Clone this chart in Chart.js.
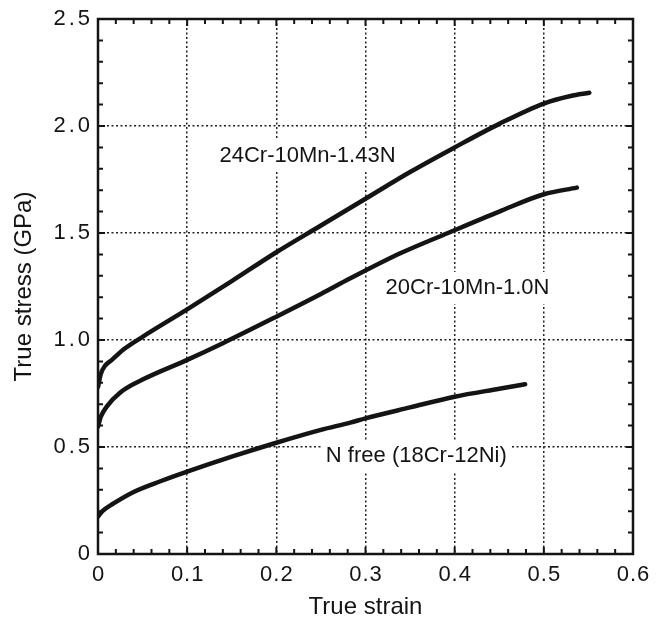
<!DOCTYPE html>
<html>
<head>
<meta charset="utf-8">
<title>True stress - true strain</title>
<script src="https://cdn.jsdelivr.net/npm/chart.js@4/dist/chart.umd.min.js"></script>
<style>
  body { margin: 0; background: #fff; }
  canvas { display: block; }
</style>
</head>
<body>
<canvas id="stressChart" width="664" height="620"></canvas>
<script>
// stress-strain curves for three steels
const strainHighN = [0, 0.003, 0.008, 0.015, 0.03, 0.05, 0.1, 0.15, 0.2, 0.25, 0.3, 0.35, 0.4, 0.45, 0.5, 0.53, 0.551];
const stressHighN = [0.78, 0.84, 0.88, 0.905, 0.96, 1.015, 1.143, 1.275, 1.41, 1.535, 1.66, 1.785, 1.9, 2.01, 2.105, 2.14, 2.155];

const strainMidN = [0, 0.003, 0.01, 0.025, 0.05, 0.1, 0.14, 0.2, 0.25, 0.283, 0.339, 0.3925, 0.45, 0.5, 0.537];
const stressMidN = [0.595, 0.64, 0.69, 0.755, 0.815, 0.907, 0.985, 1.109, 1.215, 1.288, 1.405, 1.5, 1.6, 1.681, 1.712];

const strainNoN = [0, 0.005, 0.017, 0.04, 0.07, 0.1, 0.15, 0.2, 0.25, 0.283, 0.3, 0.35, 0.4, 0.45, 0.479];
const stressNoN = [0.175, 0.2, 0.235, 0.29, 0.34, 0.385, 0.455, 0.52, 0.58, 0.614, 0.634, 0.685, 0.735, 0.772, 0.793];

const xTicks = [0, 0.1, 0.2, 0.3, 0.4, 0.5, 0.6];
const yTicks = [0, 0.5, 1.0, 1.5, 2.0, 2.5];

// curve names and where they are written (data units)
const curveNames = ['24Cr-10Mn-1.43N', '20Cr-10Mn-1.0N', 'N free (18Cr-12Ni)'];
const nameX = [0.235, 0.4144, 0.357];
const nameY = [1.862, 1.243, 0.458];

const FONT = '"Liberation Sans", Arial, Helvetica, sans-serif';
const INK = '#141414';

function toPoints(xs, ys) {
    return xs.map((x, i) => ({ x: x, y: ys[i] }));
}

function curve(xs, ys) {
    return {
        data: toPoints(xs, ys),
        borderColor: INK,
        borderWidth: 4.5,
        pointRadius: 0,
        fill: false,
        cubicInterpolationMode: 'monotone',
        borderCapStyle: 'round'
    };
}

function isEdge(v, ticks) {
    return Math.abs(v - ticks[0]) < 1e-6 || Math.abs(v - ticks[ticks.length - 1]) < 1e-6;
}

function fmt(v) {
    return v === 0 ? '0' : v.toFixed(1);
}

// frame with inward ticks on all four sides
const frameTicks = {
    id: 'frameTicks',
    afterDatasetsDraw(chart) {
        const { ctx, chartArea: a, scales } = chart;
        ctx.save();
        ctx.strokeStyle = INK;
        ctx.lineWidth = 2;
        ctx.beginPath();
        for (let v = 0; v <= 0.6001; v += 0.02) {
            const px = scales.x.getPixelForValue(v);
            const major = Math.abs(v * 10 - Math.round(v * 10)) < 1e-6;
            const len = major ? 7 : 5;
            ctx.moveTo(px, a.bottom); ctx.lineTo(px, a.bottom - len);
            ctx.moveTo(px, a.top); ctx.lineTo(px, a.top + len);
        }
        for (let v = 0; v <= 2.5001; v += 0.1) {
            const py = scales.y.getPixelForValue(v);
            const major = Math.abs(v * 2 - Math.round(v * 2)) < 1e-6;
            const len = major ? 7 : 5;
            ctx.moveTo(a.left, py); ctx.lineTo(a.left + len, py);
            ctx.moveTo(a.right, py); ctx.lineTo(a.right - len, py);
        }
        ctx.stroke();
        ctx.lineWidth = 2.5;
        ctx.strokeRect(a.left, a.top, a.right - a.left, a.bottom - a.top);
        ctx.restore();
    }
};

// tick numbers, spaced out a little like the typeset axes
const tickLabels = {
    id: 'tickLabels',
    afterDraw(chart) {
        const { ctx, chartArea: a, scales } = chart;
        ctx.save();
        ctx.fillStyle = INK;
        ctx.font = '22px ' + FONT;
        ctx.letterSpacing = '1px';
        ctx.textAlign = 'center';
        ctx.textBaseline = 'top';
        xTicks.forEach(v => {
            ctx.fillText(fmt(v), scales.x.getPixelForValue(v) + 0.5, a.bottom + 10);
        });
        ctx.letterSpacing = '3px';
        ctx.textAlign = 'right';
        ctx.textBaseline = 'middle';
        yTicks.forEach(v => {
            ctx.fillText(fmt(v), a.left - 8 + 3, scales.y.getPixelForValue(v));
        });
        ctx.restore();
    }
};

// curve names on white boxes that cut the grid
const curveLabels = {
    id: 'curveLabels',
    beforeDatasetsDraw(chart) {
        const { ctx, scales } = chart;
        ctx.save();
        ctx.font = '22px ' + FONT;
        ctx.textAlign = 'center';
        ctx.textBaseline = 'middle';
        curveNames.forEach((name, i) => {
            const cx = scales.x.getPixelForValue(nameX[i]);
            const cy = scales.y.getPixelForValue(nameY[i]);
            const w = ctx.measureText(name).width;
            ctx.fillStyle = '#fff';
            ctx.fillRect(cx - w / 2 - 4, cy - 16, w + 8, 32);
            ctx.fillStyle = INK;
            ctx.fillText(name, cx, cy);
        });
        ctx.restore();
    }
};

const gridStyle = ticks => ({
    drawTicks: false,
    lineWidth: 1.5,
    color: c => isEdge(c.tick.value, ticks) ? 'rgba(0,0,0,0)' : '#222'
});

new Chart(document.getElementById('stressChart'), {
    type: 'line',
    data: {
        datasets: [
            curve(strainHighN, stressHighN),
            curve(strainMidN, stressMidN),
            curve(strainNoN, stressNoN)
        ]
    },
    options: {
        responsive: false,
        animation: false,
        layout: { padding: { top: 19, right: 31, left: 0, bottom: 0 } },
        plugins: {
            legend: { display: false },
            tooltip: { enabled: false }
        },
        scales: {
            x: {
                type: 'linear',
                min: xTicks[0],
                max: xTicks[xTicks.length - 1],
                afterBuildTicks: s => { s.ticks = xTicks.map(v => ({ value: v })); },
                afterFit: s => { s.height = 66; },
                ticks: { display: false },
                grid: gridStyle(xTicks),
                border: { display: false, dash: [2, 2.5] },
                title: {
                    display: true,
                    text: 'True strain',
                    color: INK,
                    font: { family: FONT, size: 24, lineHeight: 1 },
                    padding: { top: 0, bottom: 1 }
                }
            },
            y: {
                type: 'linear',
                min: yTicks[0],
                max: yTicks[yTicks.length - 1],
                afterBuildTicks: s => { s.ticks = yTicks.map(v => ({ value: v })); },
                afterFit: s => { s.width = 98; },
                ticks: { display: false },
                grid: gridStyle(yTicks),
                border: { display: false, dash: [2, 2.5] },
                title: {
                    display: true,
                    text: 'True stress (GPa)',
                    color: INK,
                    font: { family: FONT, size: 24, lineHeight: 1 },
                    padding: { top: 12, bottom: 0 }
                }
            }
        }
    },
    plugins: [curveLabels, frameTicks, tickLabels]
});
</script>
</body>
</html>
